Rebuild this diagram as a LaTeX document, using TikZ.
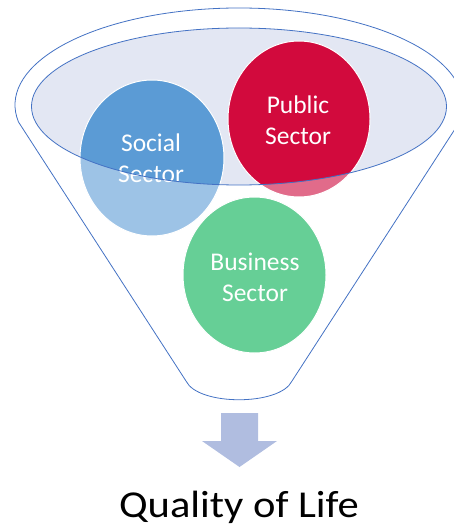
\documentclass[tikz,border=0pt]{standalone}
\usepackage{graphicx}
\usepackage{fontspec}
\setmainfont{Carlito}
\definecolor{funnelline}{HTML}{4472C4}
\definecolor{rimfill}{HTML}{E3E7F3}
\definecolor{socialdark}{HTML}{5B9BD5}
\definecolor{sociallight}{HTML}{9DC3E6}
\definecolor{publicdark}{HTML}{D20A3D}
\definecolor{publiclight}{HTML}{E16B8A}
\definecolor{businessfill}{HTML}{66CF96}
\definecolor{arrowfill}{HTML}{B0BDE0}
\tikzset{
  outline/.style={draw=funnelline, line width=0.8pt},
  sectortext/.style={text=white, align=center, inner sep=0pt,
    font=\fontsize{25.5}{31}\selectfont},
  rimborder/.style={draw=white, line width=1pt},
}
\begin{document}
\begin{tikzpicture}[x=1pt, y=-1pt]
  \useasboundingbox (0,0) rectangle (454,529);

  % funnel body: top rim arc, tapering sides, rounded spout
  \coordinate (spoutL) at (186,381);
  \coordinate (spoutR) at (292,381);
  \draw[outline, fill=white] (spoutL) -- (18.5,122)
    arc[start angle=190.1, end angle=-10.1, x radius=224pt, y radius=97pt]
    -- (spoutR) .. controls (280,406) and (198,406) .. (spoutL) -- cycle;

  % inner rim surface
  \fill[rimfill] (239,106.5) ellipse [x radius=207.5pt, y radius=78.5pt];

  % sector discs, paler where they hang below the rim
  \fill[sociallight] (152,158) ellipse [x radius=72pt, y radius=78pt];
  \fill[publiclight] (299,119) ellipse [x radius=71pt, y radius=78pt];
  \begin{scope}
    \clip (239,106.5) ellipse [x radius=207.5pt, y radius=78.5pt];
    \fill[socialdark] (152,158) ellipse [x radius=72pt, y radius=78pt];
    \fill[publicdark] (299,119) ellipse [x radius=71pt, y radius=78pt];
  \end{scope}
  \fill[businessfill] (254.5,275) ellipse [x radius=71.5pt, y radius=78pt];
  \draw[rimborder] (152,158) ellipse [x radius=72pt, y radius=78pt];
  \draw[rimborder] (299,119) ellipse [x radius=71pt, y radius=78pt];
  \draw[rimborder] (254.5,275) ellipse [x radius=71.5pt, y radius=78pt];

  \node[sectortext] (social) at (151,158) {Social\\Sector};
  \node[sectortext] (public) at (298,120) {Public\\Sector};
  \node[sectortext] (business) at (255,277) {Business\\Sector};

  % rim edge over everything
  \draw[outline] (239,106.5) ellipse [x radius=207.5pt, y radius=78.5pt];

  % output arrow
  \fill[arrowfill] (221,413) -- (258,413) -- (258,441) -- (277,441)
    -- (239.5,467) -- (202,441) -- (221,441) -- cycle;

  \node[anchor=base, inner sep=0pt, font=\fontsize{38}{44}\selectfont]
    (result) at (239,517) {\scalebox{1.12}[1]{Quality of Life}};
\end{tikzpicture}
\end{document}
